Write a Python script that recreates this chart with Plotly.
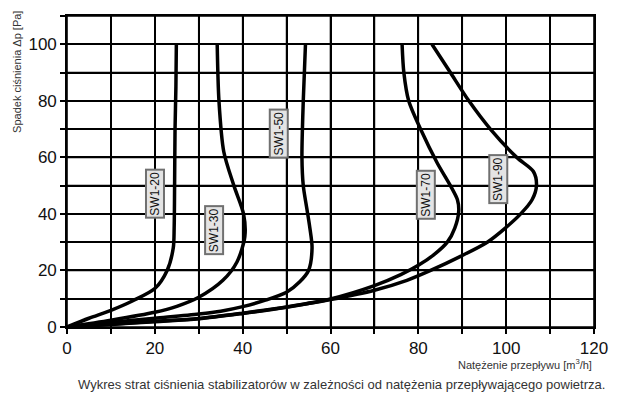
import plotly.graph_objects as go

# Flow rate [m3/h] (x) and pressure drop [Pa] (y)
sw20_x = [0, 5, 10, 15, 20, 22.8, 24.2, 24.4, 24.5, 24.6, 24.8, 24.9]
sw20_y = [0, 3.1, 5.9, 9.3, 13.6, 20, 28, 35, 50, 70, 85, 100]

sw30_x = [0, 10, 20, 25, 30, 35.5, 38.7, 40.5, 40.2, 38.0, 35.7, 34.6, 34.2]
sw30_y = [0, 2.4, 5.2, 7.3, 10.5, 16.5, 23, 32, 40, 50, 62, 80, 100]

sw50_x = [0, 10, 20, 30, 35, 40, 45, 50, 53, 55, 55.8, 55.3, 54.6, 53.8, 53.5, 53.8, 54.3]
sw50_y = [0, 1.6, 3.1, 4.6, 5.6, 7.2, 9.4, 12.3, 16, 20, 28, 35, 42, 50, 60, 80, 100]

sw70_x = [0, 10, 20, 30, 40, 50, 60, 70, 76, 80, 83.5, 86.6, 88.3, 89.2, 88.9, 87.3, 84.3, 80.5, 77.8, 76.7, 76.3]
sw70_y = [0, 1.0, 2.0, 3.0, 4.9, 7.1, 9.9, 14.6, 18.5, 21.8, 25.5, 30, 35, 41, 45, 50, 58, 70, 80, 90, 100]

sw90_x = [0, 10, 20, 30, 40, 50, 60, 70, 77.4, 82.8, 89.6, 95.7, 99.8, 103.3, 105.9, 106.9, 106.2, 102.4, 96.4, 91.5, 87.3, 83.1]
sw90_y = [0, 0.9, 1.9, 2.9, 4.8, 7.0, 9.7, 13, 16.5, 20, 25, 30, 35, 40, 45, 50, 55, 60, 70, 80, 90, 100]

series = [
    ("SW1-20", sw20_x, sw20_y),
    ("SW1-30", sw30_x, sw30_y),
    ("SW1-50", sw50_x, sw50_y),
    ("SW1-70", sw70_x, sw70_y),
    ("SW1-90", sw90_x, sw90_y),
]

label_names = ["SW1-20", "SW1-30", "SW1-50", "SW1-70", "SW1-90"]
label_x = [20.0, 33.5, 48.2, 81.7, 98.3]
label_y = [47.1, 34.3, 68.3, 46.7, 52.2]

# grid every 10, labels every 20
x_grid = [0, 10, 20, 30, 40, 50, 60, 70, 80, 90, 100, 110, 120]
x_labels = ["0", "", "20", "", "40", "", "60", "", "80", "", "100", "", "120"]
y_grid = [0, 10, 20, 30, 40, 50, 60, 70, 80, 90, 100, 110]
y_labels = ["0", "", "20", "", "40", "", "60", "", "80", "", "100", ""]

X_RANGE = [0, 120]
Y_RANGE = [0, 110]

FONT = "Liberation Sans, Arial, sans-serif"

fig = go.Figure()

# grid lines (drawn as shapes on the axis scales, below the curves)
for gx in x_grid:
    fig.add_shape(type="line", xref="x", yref="y", x0=gx, x1=gx,
                  y0=Y_RANGE[0], y1=Y_RANGE[1], layer="below",
                  line=dict(color="black", width=1.6))
for gy in y_grid:
    fig.add_shape(type="line", xref="x", yref="y", x0=X_RANGE[0], x1=X_RANGE[1],
                  y0=gy, y1=gy, layer="below",
                  line=dict(color="black", width=1.6))

for name, xs, ys in series:
    fig.add_trace(go.Scatter(
        x=xs, y=ys, mode="lines", name=name,
        line=dict(color="black", width=3.5, shape="spline", smoothing=0.8),
        showlegend=False, hoverinfo="skip",
    ))

for n, lx, ly in zip(label_names, label_x, label_y):
    fig.add_annotation(
        x=lx, y=ly, xref="x", yref="y", text=n, showarrow=False,
        textangle=-90, font=dict(family=FONT, size=12, color="#111111"),
        bgcolor="#e4e4e4", bordercolor="#707070", borderwidth=2, borderpad=1,
    )

fig.add_annotation(
    x=-0.095, y=0.82, xref="paper", yref="paper",
    text="Spadek ciśnienia Δp [Pa]", showarrow=False, textangle=-90,
    font=dict(family=FONT, size=11, color="#333333"),
    xanchor="center", yanchor="middle",
)
fig.add_annotation(
    x=1.0, y=-0.118, xref="paper", yref="paper",
    text="Natężenie przepływu [m<sup>3</sup>/h]", showarrow=False,
    font=dict(family=FONT, size=11, color="#333333"),
    xanchor="right", yanchor="middle",
)
fig.add_annotation(
    x=0.521, y=-0.186, xref="paper", yref="paper",
    text="Wykres strat ciśnienia stabilizatorów w zależności od natężenia przepływającego powietrza.",
    showarrow=False, font=dict(family=FONT, size=13, color="#333333"),
    xanchor="center", yanchor="middle",
)

axis_common = dict(
    showline=True, linecolor="black", linewidth=1.6, mirror=True,
    showgrid=True, gridcolor="#000000", gridwidth=1.6,
    ticks="outside", ticklen=5, tickcolor="black", tickwidth=1.5,
    tickfont=dict(family=FONT, size=17, color="#111111"),
    zeroline=False, tickmode="array",
)

fig.update_xaxes(range=X_RANGE, tickvals=x_grid, ticktext=x_labels, **axis_common)
fig.update_yaxes(range=Y_RANGE, tickvals=y_grid, ticktext=y_labels, **axis_common)

fig.update_layout(
    width=629, height=405,
    margin=dict(l=67, r=35, t=16, b=78),
    paper_bgcolor="white", plot_bgcolor="white",
)

fig.write_html("out.html")
